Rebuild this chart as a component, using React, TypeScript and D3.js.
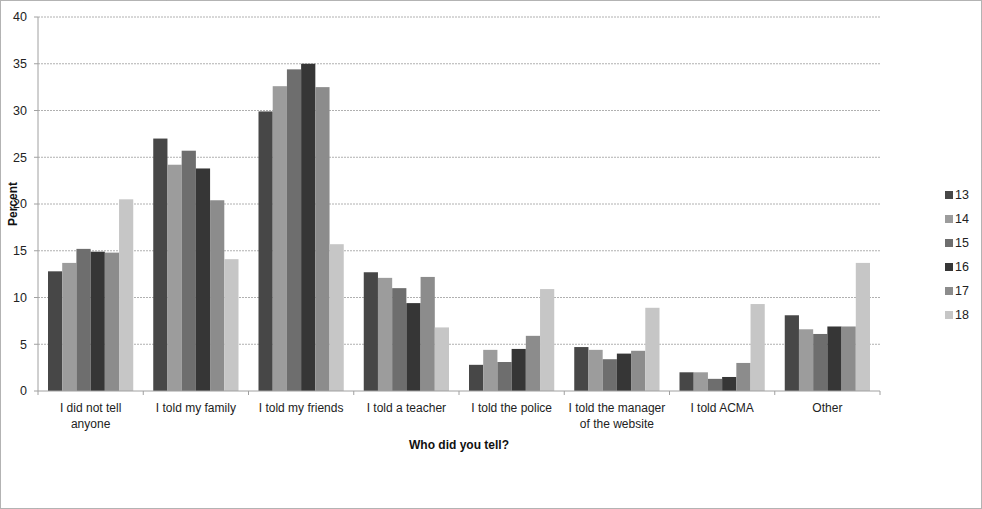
import React from "react";
import * as d3 from "d3";

const categories = [
  ["I did not tell", "anyone"],
  ["I told my family"],
  ["I told my friends"],
  ["I told a teacher"],
  ["I told the police"],
  ["I told the manager", "of the website"],
  ["I told ACMA"],
  ["Other"],
];
const seriesNames = ["13", "14", "15", "16", "17", "18"];
const s13 = [12.8, 27.0, 29.9, 12.7, 2.8, 4.7, 2.0, 8.1];
const s14 = [13.7, 24.2, 32.6, 12.1, 4.4, 4.4, 2.0, 6.6];
const s15 = [15.2, 25.7, 34.4, 11.0, 3.1, 3.4, 1.3, 6.1];
const s16 = [14.9, 23.8, 35.0, 9.4, 4.5, 4.0, 1.5, 6.9];
const s17 = [14.8, 20.4, 32.5, 12.2, 5.9, 4.3, 3.0, 6.9];
const s18 = [20.5, 14.1, 15.7, 6.8, 10.9, 8.9, 9.3, 13.7];
const seriesValues = [s13, s14, s15, s16, s17, s18];
const yTicks = [0, 5, 10, 15, 20, 25, 30, 35, 40];
const colors = ["#474747", "#9c9c9c", "#6e6e6e", "#363636", "#8c8c8c", "#c6c6c6"];

const W = 982, H = 509;
const left = 38, right = 880, top = 17, bottom = 391;
const font = "'Liberation Sans', sans-serif";

export default function App() {
  const x0 = d3.scaleBand<number>().domain(d3.range(categories.length)).range([left, right]).paddingInner(0.19).paddingOuter(0.095);
  const x1 = d3.scaleBand<number>().domain(d3.range(seriesNames.length)).range([0, x0.bandwidth()]);
  const y = d3.scaleLinear().domain([0, 40]).range([bottom, top]);
  const step = (right - left) / categories.length;
  return (
    <svg width={W} height={H} style={{ position: "absolute", left: 0, top: 0, background: "#fff" }} fontFamily={font}>
      <rect x={0.5} y={0.5} width={W - 1} height={H - 1} fill="#fff" stroke="#666" strokeDasharray="1,1" />
      {yTicks.map((t) => (
        <g key={t}>
          {t > 0 && <line x1={left} x2={right} y1={y(t)} y2={y(t)} stroke="#b0b0b0" strokeDasharray="2,1" />}
          <line x1={left - 4} x2={left} y1={y(t)} y2={y(t)} stroke="#a0a0a0" />
          <text x={left - 11} y={y(t)} dy="0.35em" textAnchor="end" fontSize={12.5} fill="#222">{t}</text>
        </g>
      ))}
      {seriesValues.map((vals, si) =>
        vals.map((v, ci) => (
          <rect key={`${si}-${ci}`} x={(x0(ci) as number) + (x1(si) as number)} y={y(v)} width={x1.bandwidth()} height={bottom - y(v)} fill={colors[si]} />
        ))
      )}
      <line x1={left} x2={left} y1={top} y2={bottom} stroke="#a0a0a0" />
      <line x1={left} x2={right} y1={bottom} y2={bottom} stroke="#a0a0a0" />
      {d3.range(categories.length + 1).map((i) => (
        <line key={i} x1={left + i * step} x2={left + i * step} y1={bottom} y2={bottom + 4} stroke="#a0a0a0" />
      ))}
      {categories.map((lines, ci) => (
        <text key={ci} x={(x0(ci) as number) + x0.bandwidth() / 2} y={412} textAnchor="middle" fontSize={12} fill="#222">
          {lines.map((l, li) => (
            <tspan key={li} x={(x0(ci) as number) + x0.bandwidth() / 2} dy={li === 0 ? 0 : 16}>{l}</tspan>
          ))}
        </text>
      ))}
      <text x={459} y={449} textAnchor="middle" fontSize={12} fontWeight="bold" fill="#111">Who did you tell?</text>
      <text transform={`translate(17,${(top + bottom) / 2}) rotate(-90)`} textAnchor="middle" fontSize={12} fontWeight="bold" fill="#111">Percent</text>
      {seriesNames.map((n, i) => (
        <g key={n} transform={`translate(945,${195 + i * 24})`}>
          <rect x={0} y={-4} width={8} height={8} fill={colors[i]} />
          <text x={10} y={0} dy="0.35em" fontSize={12.5} fill="#222">{n}</text>
        </g>
      ))}
    </svg>
  );
}
